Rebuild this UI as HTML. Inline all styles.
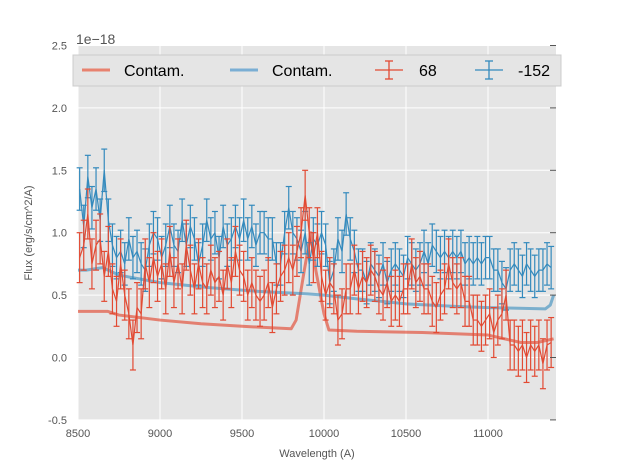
<!DOCTYPE html>
<html><head><meta charset="utf-8"><style>
body{margin:0;background:#fff;}
svg text{font-family:"Liberation Sans",sans-serif;}
</style></head><body>
<svg id="chart" width="617" height="467" viewBox="0 0 617 467" xmlns="http://www.w3.org/2000/svg">
<rect x="78" y="46" width="478" height="374" fill="#e5e5e5"/>
<g id="grid"></g>
<g id="marks"></g>
<g id="axes"></g>
<text x="76" y="44" font-size="14" fill="#555">1e−18</text>
<text x="317" y="457" font-size="11" fill="#555" text-anchor="middle">Wavelength (A)</text>
<text x="32" y="233" font-size="11" fill="#555" text-anchor="middle" transform="rotate(-90 32 233)">Flux (erg/s/cm^2/A)</text>
<g>
<rect x="73" y="55" width="488" height="31" fill="#e5e5e5" stroke="#ccc" stroke-width="1"/>
<g><line x1="82" y1="70" x2="110" y2="70" stroke="#e8826f" stroke-width="3"/><text x="124" y="76" font-size="16" fill="#000">Contam.</text></g>
<g><line x1="230" y1="70" x2="258" y2="70" stroke="#7aaed4" stroke-width="3"/><text x="272" y="76" font-size="16" fill="#000">Contam.</text></g>
<g stroke="#e24a33" stroke-width="1.3"><line x1="375" y1="70" x2="403" y2="70"/><line x1="389" y1="61" x2="389" y2="79"/><line x1="385" y1="61" x2="393" y2="61"/><line x1="385" y1="79" x2="393" y2="79"/><text x="419" y="76" font-size="16" fill="#000" stroke="none">68</text></g>
<g stroke="#348abd" stroke-width="1.3"><line x1="475" y1="70" x2="503" y2="70"/><line x1="489" y1="61" x2="489" y2="79"/><line x1="485" y1="61" x2="493" y2="61"/><line x1="485" y1="79" x2="493" y2="79"/><text x="518" y="76" font-size="16" fill="#000" stroke="none">-152</text></g>
</g>
</svg>
<script>
const xTicks=[8500,9000,9500,10000,10500,11000];
const yTicks=[-0.5,0.0,0.5,1.0,1.5,2.0,2.5];
const wave0=8510, waveStep=25;
const blueFlux=[1.35,1.05,1.45,1.2,1.35,1.1,1.5,1.1,0.9,0.8,0.85,0.75,0.95,0.8,0.85,0.75,0.7,0.9,1.0,0.95,0.8,0.9,1.05,0.9,0.85,1.1,0.9,1.05,0.95,0.75,0.9,1.1,0.95,1.0,0.8,1.05,0.9,0.95,1.05,0.95,1.1,0.95,1.05,0.9,1.0,1.0,0.95,0.95,0.75,0.75,1.0,1.2,1.0,0.95,0.85,1.0,0.75,0.95,0.9,1.0,0.9,0.6,0.7,0.95,0.85,1.15,0.95,0.85,0.7,0.7,0.6,0.75,0.7,0.65,0.75,0.6,0.7,0.75,0.7,0.65,0.8,0.75,0.7,0.75,0.85,0.75,0.9,0.85,0.8,0.85,0.8,0.85,0.8,0.85,0.75,0.8,0.75,0.8,0.75,0.8,0.8,0.7,0.7,0.6,0.55,0.7,0.75,0.7,0.65,0.75,0.7,0.65,0.7,0.7,0.75,0.72];
const redFlux=[0.8,0.9,1.15,0.75,0.9,0.95,0.65,0.85,0.55,0.45,0.75,0.5,0.35,0.1,0.4,0.35,0.75,0.6,0.8,0.65,0.75,0.55,0.85,0.6,0.75,0.55,0.9,0.7,0.55,0.75,0.6,0.55,0.7,0.6,0.65,0.5,0.75,0.6,0.85,0.7,0.65,0.5,0.6,0.5,0.45,0.5,0.6,0.4,0.55,0.65,0.7,0.8,0.7,0.85,1.0,1.3,1.0,0.8,1.0,0.65,0.5,0.6,0.55,0.3,0.35,0.55,0.55,0.7,0.55,0.65,0.6,0.7,0.65,0.55,0.5,0.6,0.45,0.5,0.45,0.55,0.55,0.75,0.6,0.65,0.55,0.55,0.45,0.4,0.5,0.55,0.75,0.6,0.55,0.6,0.45,0.45,0.3,0.3,0.25,0.3,0.35,0.2,0.3,0.35,0.5,0.1,0.1,0.05,0.1,0.0,0.1,0.05,0.1,-0.05,0.1,0.12];
const blueErr=0.17, redErr=0.2;
const contamRedWave=[8500,8680,8750,9000,9250,9500,9800,9830,9880,9920,9950,10000,10030,10200,10600,11000,11200,11300,11400];
const contamRedFlux=[0.37,0.37,0.34,0.3,0.27,0.25,0.23,0.3,0.7,1.0,0.7,0.35,0.22,0.21,0.2,0.18,0.12,0.12,0.15];
const contamBlueWave=[8500,8550,8650,8750,9000,9300,9600,9900,10000,10200,10500,10800,11000,11350,11380,11400];
const contamBlueFlux=[0.7,0.7,0.72,0.66,0.6,0.56,0.53,0.51,0.5,0.47,0.43,0.41,0.4,0.39,0.42,0.5];

const X=w=>78+(w-8500)*0.164;
const Y=v=>357.5-v*124.8;
const NS='http://www.w3.org/2000/svg';
function mk(tag,attrs,parent){const e=document.createElementNS(NS,tag);for(const k in attrs)e.setAttribute(k,attrs[k]);parent.appendChild(e);return e;}
const grid=document.getElementById('grid'),axes=document.getElementById('axes'),marks=document.getElementById('marks');
xTicks.forEach(t=>{
  const g=mk('line',{x1:X(t),x2:X(t),y1:46,y2:420,stroke:'#fff','stroke-width':1},grid);
  
  
  const tl=mk('text',{x:X(t),y:437,'font-size':11,fill:'#555','text-anchor':'middle'},axes);tl.textContent=t;
  
  
});
yTicks.forEach(t=>{
  const g=mk('line',{x1:78,x2:556,y1:Y(t),y2:Y(t),stroke:'#fff','stroke-width':1},grid);
  
  
  mk('line',{x1:550,x2:556,y1:Y(t),y2:Y(t),stroke:'#555','stroke-width':1},axes);
  const tl=mk('text',{x:67,y:Y(t)+4,'font-size':11,fill:'#555','text-anchor':'end'},axes);tl.textContent=t.toFixed(1);
  
  
});
function line(ws,vs,color,width,name){
  const p=mk('polyline',{points:ws.map((w,i)=>X(w)+','+Y(vs[i])).join(' '),fill:'none',stroke:color,'stroke-width':width,'stroke-linejoin':'round'},marks);
  
  
}
line(contamRedWave,contamRedFlux,'rgba(226,74,51,0.65)',3,'contam-red-line');
line(contamBlueWave,contamBlueFlux,'rgba(52,138,189,0.6)',3,'contam-blue-line');
function errSeries(vals,err,color,name){
  const ws=vals.map((v,i)=>wave0+i*waveStep);
  const g=mk('g',{stroke:color,'stroke-width':1.2,fill:'none'},marks);
  
  
  vals.forEach((v,i)=>{const x=X(ws[i]);
    mk('line',{x1:x,x2:x,y1:Y(v-err),y2:Y(v+err)},g);
    mk('line',{x1:x-3,x2:x+3,y1:Y(v-err),y2:Y(v-err)},g);
    mk('line',{x1:x-3,x2:x+3,y1:Y(v+err),y2:Y(v+err)},g);
  });
  mk('polyline',{points:ws.map((w,i)=>X(w)+','+Y(vals[i])).join(' ')},g);
}
errSeries(blueFlux,blueErr,'#348abd','series-152');
errSeries(redFlux,redErr,'#e24a33','series-68');
</script>
</body></html>
